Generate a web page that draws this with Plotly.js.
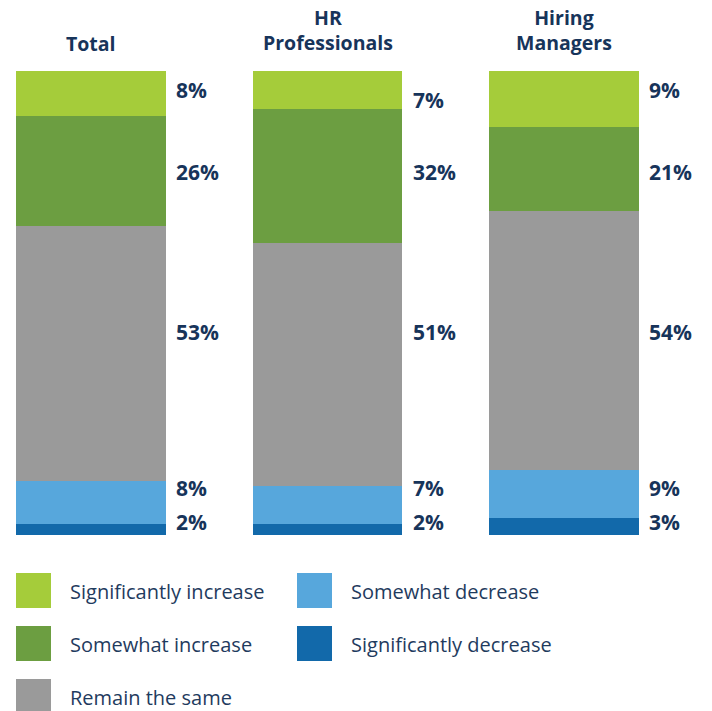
<!DOCTYPE html>
<html>
<head>
<meta charset="utf-8">
<script src="https://cdn.plot.ly/plotly-3.0.1.min.js"></script>
<style>html,body{margin:0;padding:0;background:#fff;}#chart{width:712px;height:711px;}</style>
</head>
<body>
<div id="chart"></div>
<script>
// ---- data ----
var groups = ["Total", "HR<br>Professionals", "Hiring<br>Managers"];
var seriesNames = ["Significantly decrease", "Somewhat decrease", "Remain the same", "Somewhat increase", "Significantly increase"];
// segment heights as drawn (share of bar height, %)
var sigDecrease  = [2.4, 2.4, 3.7];
var somDecrease  = [9.3, 8.2, 10.3];
var remainSame   = [54.9, 52.3, 55.8];
var somIncrease  = [23.7, 28.9, 18.1];
var sigIncrease  = [9.7, 8.2, 12.3];
// printed percentage labels
var lblSigDecrease = ["2%", "2%", "3%"];
var lblSomDecrease = ["8%", "7%", "9%"];
var lblRemainSame  = ["53%", "51%", "54%"];
var lblSomIncrease = ["26%", "32%", "21%"];
var lblSigIncrease = ["8%", "7%", "9%"];

// ---- styles ----
var colors = ["#1269aa", "#57a7dc", "#9a9a9a", "#6c9e41", "#a5cc3a"];
var navy = "#17345a";
var FONT = "'Open Sans', Lato, sans-serif";
var values = [sigDecrease, somDecrease, remainSame, somIncrease, sigIncrease];
var labels = [lblSigDecrease, lblSomDecrease, lblRemainSame, lblSomIncrease, lblSigIncrease];
// label vertical anchors (axis units) per series, per group
var labelAnchor = [[2.8, 2.8, 2.8], [10.1, 10.1, 10.1], [43.8, 43.8, 43.8], [78.2, 78.2, 78.2], [95.9, 93.8, 95.9]];

var xIdx = groups.map(function(g, i){ return i; });
var traces = values.map(function(v, s){
  return {type: "bar", x: xIdx, y: v, name: seriesNames[s], width: 0.634,
          marker: {color: colors[s], line: {width: 0}}, hoverinfo: "skip"};
});

var H = 711, T = 71, B = 176, PH = H - T - B;
function py(p){ return (H - B - p) / PH; }

var ann = [];
labels.forEach(function(arr, s){
  arr.forEach(function(t, i){
    ann.push({x: i + 0.352, y: labelAnchor[s][i], xref: "x", yref: "y", text: "<b>" + t + "</b>",
      showarrow: false, xanchor: "left", yanchor: "middle",
      font: {family: FONT, size: 21, color: navy}});
  });
});
var titleSize = 19.5, lineH = 1.3 * titleSize;
groups.forEach(function(g, i){
  var n = g.split("<br>").length;
  var center = 43 - (n - 1) * lineH / 2;
  ann.push({x: i, y: py(center), xref: "x", yref: "paper",
    text: "<b>" + g.split("<br>").join("</b><br><b>") + "</b>",
    showarrow: false, xanchor: "center", yanchor: "middle", align: "center",
    font: {family: FONT, size: titleSize, color: navy}});
});

// custom legend
var legendOrder = [4, 3, 2, 1, 0];
var legendPos = [[16, 573], [16, 626], [16, 679], [297, 573], [297, 626]];
var shapes = [];
legendOrder.forEach(function(s, k){
  var lx = legendPos[k][0], ly = legendPos[k][1];
  shapes.push({type: "rect", xref: "paper", yref: "paper",
    x0: lx / 712, x1: (lx + 35) / 712, y0: py(ly + 35), y1: py(ly),
    fillcolor: colors[s], line: {width: 0}});
  ann.push({x: (lx + 52) / 712, y: py(ly + 18), xref: "paper", yref: "paper",
    text: seriesNames[s], showarrow: false, xanchor: "left", yanchor: "middle",
    font: {family: FONT, size: 20, color: "#1f3b5e"}});
});

var layout = {
  width: 712, height: 711,
  margin: {l: 0, r: 0, t: T, b: B, pad: 0},
  barmode: "stack",
  bargap: 0,
  showlegend: false,
  paper_bgcolor: "#ffffff", plot_bgcolor: "#ffffff",
  xaxis: {range: [-0.3848, 2.6258], showticklabels: false, showgrid: false, zeroline: false, showline: false, ticks: ""},
  yaxis: {range: [0, 100], showticklabels: false, showgrid: false, zeroline: false, showline: false, ticks: ""},
  annotations: ann,
  shapes: shapes
};
Plotly.newPlot("chart", traces, layout, {displayModeBar: false, staticPlot: true});
</script>
</body>
</html>
